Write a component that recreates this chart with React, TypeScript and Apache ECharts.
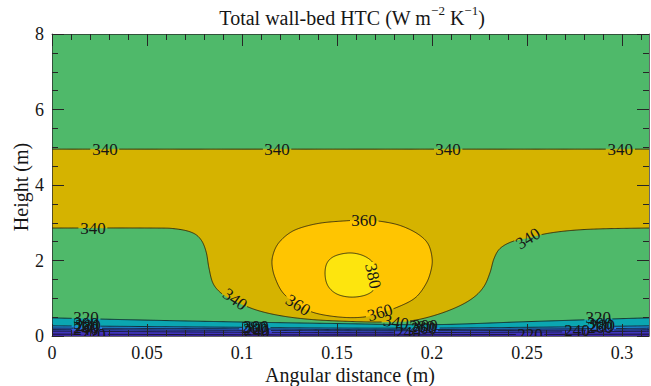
import React, { useEffect, useRef } from "react";
import * as echarts from "echarts";

// Angular extent of the wall (m)
const X_MAX = 0.31416;
const Y_MAX = 8;

const xTickValues = [0, 0.05, 0.1, 0.15, 0.2, 0.25, 0.3];
const yTickValues = [0, 2, 4, 6, 8];

// Contour lines of the wall-bed heat transfer coefficient, [angular distance (m), height (m)]
const c340Upper = [[0, 4.95], [0.1, 4.95], [0.2, 4.95], [X_MAX, 4.95]];
const c340Lower = [
  [0, 2.86], [0.0516, 2.86], [0.0647, 2.84], [0.0737, 2.74], [0.0784, 2.55],
  [0.0811, 2.23], [0.0826, 1.8], [0.0847, 1.4], [0.0889, 1.14], [0.0953, 0.95],
  [0.1068, 0.7], [0.12, 0.54], [0.1358, 0.44], [0.1542, 0.39], [0.1726, 0.37],
  [0.1884, 0.4], [0.2016, 0.55], [0.2137, 0.78], [0.2221, 1.03], [0.2274, 1.32],
  [0.2305, 1.68], [0.2326, 2.05], [0.2358, 2.32], [0.2421, 2.5], [0.2505, 2.6],
  [0.2611, 2.72], [0.2742, 2.8], [0.29, 2.84], [X_MAX, 2.86],
];
const c360 = [
  [0.1647, 3.07], [0.1542, 3.05], [0.1411, 2.99], [0.1305, 2.86], [0.1242, 2.7],
  [0.1189, 2.44], [0.1163, 2.15], [0.1158, 1.88], [0.1174, 1.54], [0.1216, 1.14],
  [0.1295, 0.82], [0.1384, 0.61], [0.1516, 0.5], [0.1637, 0.5], [0.1726, 0.61],
  [0.1821, 0.77], [0.1911, 1.01], [0.1968, 1.38], [0.1995, 1.75], [0.2, 2.07],
  [0.1979, 2.44], [0.1926, 2.7], [0.1842, 2.91], [0.1753, 3.02],
];
const c380 = [
  [0.1437, 1.62], [0.1447, 1.93], [0.1489, 2.12], [0.1568, 2.2], [0.1642, 2.12],
  [0.1695, 1.91], [0.1716, 1.59], [0.17, 1.27], [0.1653, 1.09], [0.1574, 1.03],
  [0.15, 1.11], [0.1453, 1.32],
];
const c320 = [[0, 0.48], [0.05, 0.42], [0.1, 0.37], [0.15, 0.33], [0.2, 0.3], [0.25, 0.38], [0.3, 0.46], [X_MAX, 0.48]];
const c300 = [[0, 0.27], [0.05, 0.25], [0.1, 0.23], [0.15, 0.21], [0.2, 0.21], [0.25, 0.23], [0.3, 0.26], [X_MAX, 0.27]];
const c280 = [[0, 0.21], [0.1, 0.19], [0.15, 0.17], [0.2, 0.17], [0.3, 0.2], [X_MAX, 0.21]];
const c260 = [[0, 0.17], [0.1, 0.15], [0.15, 0.14], [0.2, 0.14], [0.3, 0.16], [X_MAX, 0.17]];
const c240 = [[0, 0.13], [0.1, 0.1], [0.15, 0.09], [0.2, 0.09], [0.3, 0.12], [X_MAX, 0.13]];
const c220 = [[0, 0.05], [0.15, 0.03], [X_MAX, 0.05]];

// Inline contour labels: [level, x, y, angle in degrees]
const contourLabels = [
  [340, 0.0279, 4.95, 0], [340, 0.1184, 4.95, 0], [340, 0.2084, 4.95, 0], [340, 0.299, 4.95, 0],
  [340, 0.0216, 2.86, 0], [340, 0.0963, 0.97, -35], [340, 0.2505, 2.58, 32], [340, 0.181, 0.36, -10],
  [360, 0.1642, 3.06, 0], [360, 0.1295, 0.82, -32], [360, 0.1726, 0.62, 16],
  [380, 0.1689, 1.59, -78],
  [320, 0.0179, 0.5, 0], [320, 0.2874, 0.5, 0],
  [300, 0.0179, 0.33, 0], [300, 0.1074, 0.25, 0], [300, 0.1963, 0.27, 0], [300, 0.2884, 0.32, 0],
  [280, 0.0189, 0.27, 0], [280, 0.1063, 0.22, 0], [280, 0.1947, 0.24, 0], [280, 0.2895, 0.27, 0],
  [260, 0.0179, 0.22, 0], [260, 0.1074, 0.18, 0], [260, 0.1958, 0.2, 0], [260, 0.2884, 0.22, 0],
  [240, 0.0179, 0.17, 0], [240, 0.1079, 0.12, 0], [240, 0.1874, 0.08, 0], [240, 0.2763, 0.15, 0],
  [220, 0.0216, 0.05, 0], [220, 0.2516, 0.05, 0],
];

const FONT = '"Liberation Serif", "Times New Roman", serif';
const INK = "#161616";
const AXIS = "#262626";

const fills = {
  band320: "#4fb96a",
  band340: "#d5b300",
  band360: "#ffc501",
  band380: "#fde50e",
  band300: "#0ba6b1",
  band280: "#1c8bd9",
  band260: "#2e6ce4",
  band240: "#3c4fd6",
  band220: "#4036be",
  below220: "#3e26a8",
};

type Pt = number[];

function catmullRom(pts: Pt[], closed: boolean, steps = 10): Pt[] {
  const n = pts.length;
  if (n < 3) return pts.slice();
  const get = (i: number) => (closed ? pts[(i + n) % n] : pts[Math.max(0, Math.min(n - 1, i))]);
  const segs = closed ? n : n - 1;
  const out: Pt[] = [];
  for (let i = 0; i < segs; i++) {
    const p0 = get(i - 1), p1 = get(i), p2 = get(i + 1), p3 = get(i + 2);
    for (let s = 0; s < steps; s++) {
      const t = s / steps, t2 = t * t, t3 = t2 * t;
      const f = (k: number) =>
        0.5 * (2 * p1[k] + (-p0[k] + p2[k]) * t + (2 * p0[k] - 5 * p1[k] + 4 * p2[k] - p3[k]) * t2 +
          (-p0[k] + 3 * p1[k] - 3 * p2[k] + p3[k]) * t3);
      out.push([f(0), f(1)]);
    }
  }
  out.push(closed ? pts[0].slice() : pts[n - 1].slice());
  return out;
}

// Break a polyline where inline labels sit
function cutAtLabels(pts: Pt[], holes: { cx: number; cy: number; r: number }[]): Pt[][] {
  const parts: Pt[][] = [];
  let cur: Pt[] = [];
  for (let i = 0; i < pts.length - 1; i++) {
    const [x0, y0] = pts[i];
    const [x1, y1] = pts[i + 1];
    const n = Math.max(1, Math.ceil(Math.hypot(x1 - x0, y1 - y0)));
    for (let k = i === 0 ? 0 : 1; k <= n; k++) {
      const t = k / n;
      const x = x0 + (x1 - x0) * t;
      const y = y0 + (y1 - y0) * t;
      const inside = holes.some((h) => Math.hypot(x - h.cx, y - h.cy) < h.r);
      if (inside) {
        if (cur.length > 1) parts.push(cur);
        cur = [];
      } else cur.push([x, y]);
    }
  }
  if (cur.length > 1) parts.push(cur);
  return parts;
}

const contours: { level: number; pts: Pt[]; closed: boolean }[] = [
  { level: 340, pts: c340Upper, closed: false },
  { level: 340, pts: c340Lower, closed: false },
  { level: 360, pts: c360, closed: true },
  { level: 380, pts: c380, closed: true },
  { level: 320, pts: c320, closed: false },
  { level: 300, pts: c300, closed: false },
  { level: 280, pts: c280, closed: false },
  { level: 260, pts: c260, closed: false },
  { level: 240, pts: c240, closed: false },
  { level: 220, pts: c220, closed: false },
];

const xMinor: number[] = [];
for (let i = 0; i <= 31; i++) if (i % 5 !== 0) xMinor.push(+(i * 0.01).toFixed(2));

function renderContours(_params: any, api: any) {
  const toPx = (pts: Pt[]) => pts.map((p) => api.coord(p) as Pt);
  const children: any[] = [];
  const fillPoly = (points: Pt[], fill: string) =>
    children.push({ type: "polygon", shape: { points }, style: { fill, stroke: fill, lineWidth: 0.4 } });

  const smooth = contours.map((c) => catmullRom(toPx(c.pts), c.closed));
  const [s340u, s340l, s360, s380, s320, s300, s280, s260, s240, s220] = smooth;

  const tl = api.coord([0, Y_MAX]);
  const br = api.coord([X_MAX, 0]);
  const bl = api.coord([0, 0]);
  fillPoly([tl, [br[0], tl[1]], br, bl], fills.band320);
  fillPoly([...s340u, ...s340l.slice().reverse()], fills.band340);
  fillPoly(s360, fills.band360);
  fillPoly(s380, fills.band380);
  const below = (s: Pt[], fill: string) => fillPoly([...s, br, bl], fill);
  below(s320, fills.band300);
  below(s300, fills.band280);
  below(s280, fills.band260);
  below(s260, fills.band240);
  below(s240, fills.band220);
  below(s220, fills.below220);

  const labelPx = contourLabels.map(([lv, x, y, a]) => ({ lv, p: api.coord([x, y]) as Pt, a }));

  contours.forEach((c, i) => {
    const holes = labelPx.filter((l) => l.lv === c.level).map((l) => ({ cx: l.p[0], cy: l.p[1], r: 14 }));
    cutAtLabels(smooth[i], holes).forEach((seg) =>
      children.push({
        type: "polyline",
        shape: { points: seg },
        style: { stroke: "#111", lineWidth: 0.8, fill: null },
      })
    );
  });

  labelPx.forEach((l) =>
    children.push({
      type: "text",
      x: l.p[0],
      y: l.p[1],
      rotation: (l.a * Math.PI) / 180,
      style: {
        text: String(l.lv),
        fontFamily: FONT,
        fontSize: 17,
        fill: INK,
        align: "center",
        verticalAlign: "middle",
      },
    })
  );

  return { type: "group", children };
}

const tickLine = { color: AXIS, width: 1 };

function xAxisSpec(position: "bottom" | "top", values: number[], len: number, labels: boolean, line: boolean) {
  return {
    type: "value",
    position,
    min: 0,
    max: X_MAX,
    z: 10,
    axisLine: { show: line, onZero: false, lineStyle: { color: AXIS, width: 0.7 } },
    axisTick: { show: true, inside: true, length: len, customValues: values, lineStyle: tickLine },
    axisLabel: labels
      ? { show: true, customValues: values, margin: 8, fontFamily: FONT, fontSize: 18, color: INK }
      : { show: false },
    splitLine: { show: false },
  };
}

function yAxisSpec(position: "left" | "right", labels: boolean) {
  return {
    type: "value",
    position,
    min: 0,
    max: Y_MAX,
    interval: 2,
    z: 10,
    axisLine: { show: true, onZero: false, lineStyle: { color: AXIS, width: 0.7 } },
    axisTick: { show: true, inside: true, length: 12, lineStyle: tickLine },
    minorTick: { show: true, splitNumber: 4, length: 6, lineStyle: tickLine },
    axisLabel: labels
      ? { show: true, margin: 8, fontFamily: FONT, fontSize: 18, color: INK, customValues: yTickValues }
      : { show: false },
    splitLine: { show: false },
  };
}

export default function App() {
  const ref = useRef<HTMLDivElement>(null);

  useEffect(() => {
    if (!ref.current) return;
    const chart = echarts.init(ref.current, undefined, { renderer: "svg" });
    chart.setOption({
      animation: false,
      backgroundColor: "#ffffff",
      grid: { left: 52, right: 2, top: 34, bottom: 50 },
      xAxis: [
        xAxisSpec("bottom", xTickValues, 12, true, true),
        xAxisSpec("bottom", xMinor, 6, false, false),
        xAxisSpec("top", xTickValues, 12, false, true),
        xAxisSpec("top", xMinor, 6, false, false),
      ],
      yAxis: [yAxisSpec("left", true), yAxisSpec("right", false)],
      series: [
        {
          type: "custom",
          xAxisIndex: 0,
          yAxisIndex: 0,
          z: 1,
          clip: true,
          data: [[0, 0]],
          renderItem: renderContours,
          silent: true,
        },
      ],
      graphic: [
        {
          type: "text",
          x: 352,
          y: 18,
          style: {
            text: "Total wall-bed HTC (W m{sup|\u22122} K{sup|\u22121})",
            fontFamily: FONT,
            fontSize: 20,
            lineHeight: 28,
            fill: INK,
            align: "center",
            verticalAlign: "middle",
            rich: {
              sup: { fontFamily: FONT, fontSize: 13, lineHeight: 18, verticalAlign: "top", fill: INK },
            },
          },
        },
        {
          type: "text",
          x: 350,
          y: 375,
          style: {
            text: "Angular distance (m)",
            fontFamily: FONT,
            fontSize: 20,
            fill: INK,
            align: "center",
            verticalAlign: "middle",
          },
        },
        {
          type: "text",
          x: 21,
          y: 187,
          rotation: Math.PI / 2,
          style: {
            text: "Height (m)",
            fontFamily: FONT,
            fontSize: 20,
            fill: INK,
            align: "center",
            verticalAlign: "middle",
          },
        },
      ],
    });
    return () => chart.dispose();
  }, []);

  return <div ref={ref} style={{ position: "fixed", left: 0, top: 0, width: 651, height: 386 }} />;
}
